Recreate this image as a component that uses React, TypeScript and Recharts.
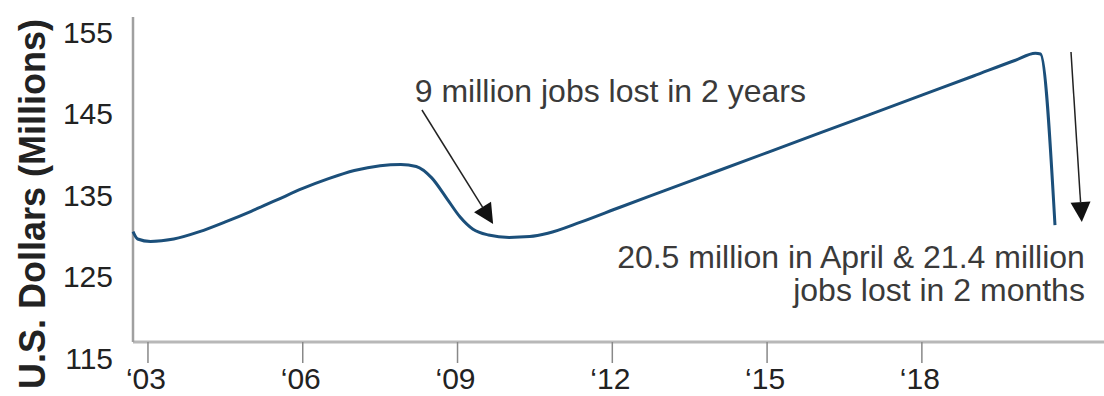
import { LineChart, Line, XAxis, YAxis, ReferenceLine, ReferenceDot } from "recharts";

// nonfarm jobs (decimal years)
const years = [
  2002.71, 2002.8, 2003.05, 2003.5, 2004.0, 2004.5, 2005.0, 2005.5, 2006.0, 2006.5,
  2007.0, 2007.5, 2007.9, 2008.2, 2008.5, 2008.8, 2009.05, 2009.3, 2009.6, 2010.0,
  2010.4, 2010.75, 2011.4, 2012.15, 2013, 2014, 2015, 2016, 2017, 2018, 2019, 2019.8,
  2020.2, 2020.3, 2020.58,
];
const jobs = [
  130.5, 129.6, 129.3, 129.6, 130.5, 131.7, 133.0, 134.4, 135.8, 137.0,
  138.0, 138.6, 138.75, 138.5, 137.1, 134.5, 132.3, 130.8, 130.1, 129.8,
  129.9, 130.3, 131.7, 133.5, 135.5, 137.85, 140.2, 142.55, 144.9, 147.25, 149.6, 151.5,
  152.4, 152.3, 131.3,
];
const xTicks = [2003, 2006, 2009, 2012, 2015, 2018];
const yTicks = [115, 125, 135, 145, 155];
const xDomain = [2002.71, 2021.53];
const axisFloor = 116.96;
const axisTop = 156.84;

const data = years.map((year, i) => ({ year, jobs: jobs[i] }));

const font = "'Liberation Sans', Arial, Helvetica, sans-serif";

const XTick = (props: any) => {
  const { x, y, payload } = props;
  return (
    <g>
      <line x1={x} x2={x} y1={y - 16} y2={y + 5} stroke="#888" strokeWidth={1.5} />
      <text x={x - 2} y={y + 31} textAnchor="middle" fontSize={30} fill="#222" fontFamily={font}>
        {"\u2018" + String(payload.value).slice(2)}
      </text>
    </g>
  );
};

const Arrow = (props: any) => {
  const { x1, y1, x2, y2 } = props;
  const a = Math.atan2(y2 - y1, x2 - x1);
  const L = 20;
  const W = 10;
  const bx = x2 - L * Math.cos(a);
  const by = y2 - L * Math.sin(a);
  const px = -Math.sin(a) * W;
  const py = Math.cos(a) * W;
  return (
    <g>
      <line x1={x1} y1={y1} x2={bx} y2={by} stroke="#222" strokeWidth={1.5} />
      <polygon points={`${x2},${y2} ${bx + px},${by + py} ${bx - px},${by - py}`} fill="#111" />
    </g>
  );
};

const Note = (lines: string[], anchor: "start" | "end") => (props: any) => (
  <text x={props.cx} y={props.cy} textAnchor={anchor} fontSize={32} fill="#3a3a3a" fontFamily={font}>
    {lines.map((t, i) => (
      <tspan key={i} x={props.cx} dy={i === 0 ? 0 : 33}>
        {t}
      </tspan>
    ))}
  </text>
);

export default function App() {
  return (
    <div style={{ position: "absolute", left: 0, top: 0, background: "#fff" }}>
      <LineChart width={1104} height={396} data={data} margin={{ top: 32, right: 0, bottom: 0, left: 0 }}>
        <XAxis
          dataKey="year"
          type="number"
          domain={xDomain}
          ticks={xTicks}
          axisLine={false}
          tickLine={false}
          tickSize={0}
          tickMargin={0}
          height={38}
          tick={<XTick />}
          interval={0}
        />
        <YAxis
          type="number"
          domain={[115, 155]}
          ticks={yTicks}
          width={133}
          axisLine={false}
          tickLine={false}
          tickSize={0}
          tickMargin={20}
          interval={0}
          tick={{ fontSize: 30, fill: "#222", fontFamily: font }}
          label={{
            content: () => {
              const cx = 45;
              const cy = 204;
              return (
                <text
                  x={cx}
                  y={cy}
                  transform={`rotate(-90 ${cx} ${cy})`}
                  textAnchor="middle"
                  fontSize={36}
                  fontWeight="bold"
                  fill="#222"
                  fontFamily={font}
                >
                  U.S. Dollars (Millions)
                </text>
              );
            },
          }}
        />
        <ReferenceLine y={axisFloor} stroke="#b8b8b8" strokeWidth={3} ifOverflow="visible" />
        <ReferenceLine
          segment={[
            { x: xDomain[0], y: axisFloor },
            { x: xDomain[0], y: axisTop },
          ]}
          stroke="#a0a0a0"
          strokeWidth={2.5}
          ifOverflow="visible"
        />
        <Line
          type="monotone"
          dataKey="jobs"
          stroke="#1b4f7a"
          strokeWidth={3}
          dot={false}
          isAnimationActive={false}
        />
        <ReferenceLine
          segment={[
            { x: 2008.31, y: 145.43 },
            { x: 2009.69, y: 131.44 },
          ]}
          shape={Arrow}
          ifOverflow="visible"
        />
        <ReferenceLine
          segment={[
            { x: 2020.89, y: 152.55 },
            { x: 2021.1, y: 131.69 },
          ]}
          shape={Arrow}
          ifOverflow="visible"
        />
        <ReferenceDot
          x={2008.17}
          y={146.4}
          r={0}
          ifOverflow="visible"
          shape={Note(["9 million jobs lost in 2 years"], "start")}
        />
        <ReferenceDot
          x={2021.16}
          y={126.04}
          r={0}
          ifOverflow="visible"
          shape={Note(["20.5 million in April & 21.4 million", "jobs lost in 2 months"], "end")}
        />
      </LineChart>
    </div>
  );
}
